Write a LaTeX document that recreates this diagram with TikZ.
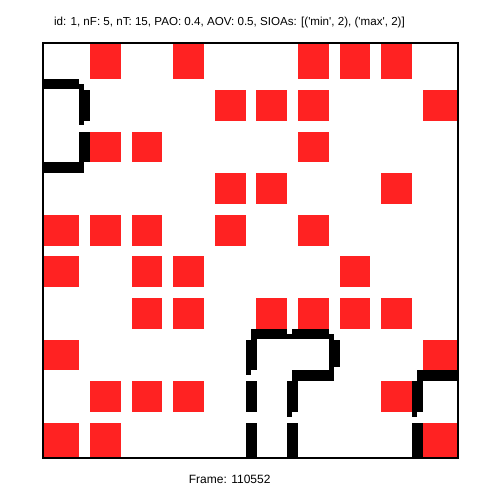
\documentclass[tikz,border=0pt]{standalone}
\usepackage{fontspec}
\setmainfont{Liberation Sans}
\begin{document}
\begin{tikzpicture}[x=1pt,y=-1pt]
\definecolor{cellred}{RGB}{255,34,34}
\tikzset{
  wall/.style={fill=black},
  label/.style={font=\fontsize{12}{14}\selectfont, inner sep=0pt, anchor=base}
}
\useasboundingbox (0,0) rectangle (502,502);
\fill[white] (0,0) rectangle (502,502);
% red cells
\foreach \r/\c in {0/1,0/3,0/6,0/7,0/8, 1/4,1/5,1/6,1/9, 2/1,2/2,2/6, 3/4,3/5,3/8,
  4/0,4/1,4/2,4/4,4/6, 5/0,5/2,5/3,5/7, 6/2,6/3,6/5,6/6,6/7,6/8, 7/0,7/9,
  8/1,8/2,8/3,8/8, 9/0,9/1,9/9}{
  \pgfmathsetmacro\xa{\c==0 ? 43 : 43+(\c+0.5)*41.6-15.4}
  \pgfmathsetmacro\xb{\c==9 ? 458 : 43+(\c+0.5)*41.6+15.4}
  \pgfmathsetmacro\ya{\r==0 ? 43 : 43+(\r+0.5)*41.6-15.4}
  \pgfmathsetmacro\yb{\r==9 ? 457.5 : 43+(\r+0.5)*41.6+15.4}
  \fill[cellred] (\xa,\ya) rectangle (\xb,\yb);
}
% shape 1 (left)
\fill[wall] (42.7,79) rectangle (79.3,89.3);
\fill[wall] (79.3,84) rectangle (84,125.3);
\fill[wall] (84,90) rectangle (90,121);
\fill[wall] (79.3,132) rectangle (90,161.7);
\fill[wall] (42.7,161.7) rectangle (84,172.7);
% shape 2 (bottom middle)
\fill[wall] (251,329) rectangle (286.7,339.3);
\fill[wall] (286.7,334) rectangle (292,339.3);
\fill[wall] (292,329) rectangle (329,339.3);
\fill[wall] (329,334) rectangle (334,370);
\fill[wall] (334,340) rectangle (340,366.7);
\fill[wall] (292,370) rectangle (334,381);
\fill[wall] (287,381) rectangle (292,416.7);
\fill[wall] (292,375.7) rectangle (298,411.7);
\fill[wall] (287,422.7) rectangle (298,457);
\fill[wall] (251,334) rectangle (256.7,370);
\fill[wall] (246,340) rectangle (251,375);
\fill[wall] (246,381) rectangle (256.7,411.7);
\fill[wall] (246,422.7) rectangle (256.7,457);
% shape 3 (bottom right)
\fill[wall] (417.3,370) rectangle (458.3,380.7);
\fill[wall] (412,380.7) rectangle (417.3,416.7);
\fill[wall] (417.3,380.7) rectangle (423.3,411.7);
\fill[wall] (412,422.7) rectangle (423.3,456.7);
% frame
\draw[line width=2pt] (42.8,43) rectangle (458.2,457.5);
% texts
\node[label, font=\fontsize{11.6}{14}\selectfont] (title) at (229.4,26) {id: 1, nF: 5, nT: 15, PAO: 0.4, AOV: 0.5, SIOAs: [(\textquotesingle min\textquotesingle, 2), (\textquotesingle max\textquotesingle, 2)]};
\node[label] (frame) at (229.7,483) {Frame: 110552};
\end{tikzpicture}
\end{document}
